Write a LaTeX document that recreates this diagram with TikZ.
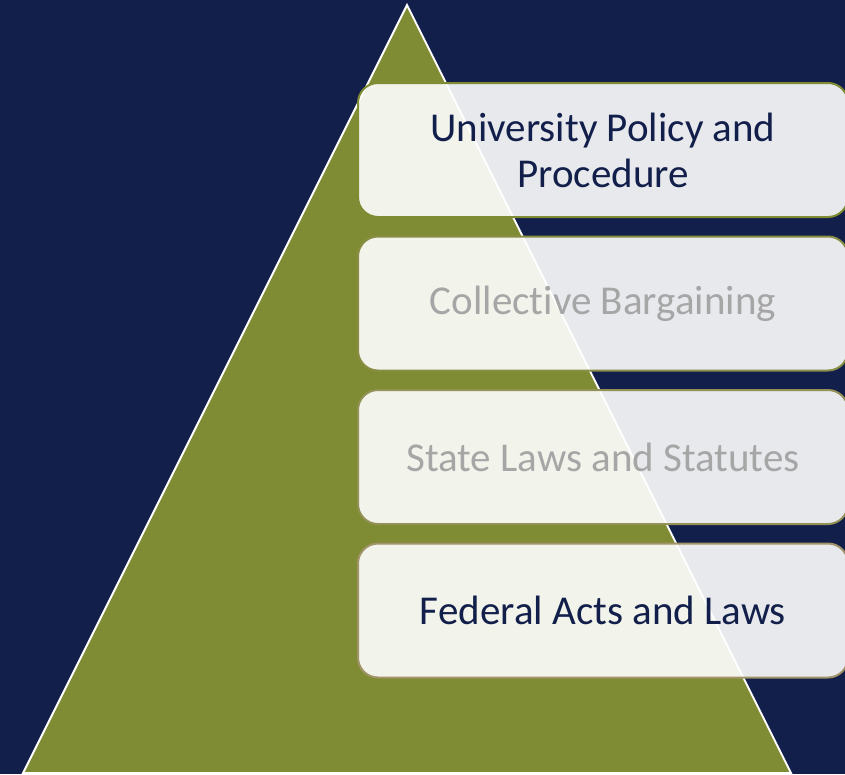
\documentclass[tikz,border=0pt]{standalone}
\usepackage{fontspec}
\setmainfont{Carlito}[Ligatures=NoCommon]
\usetikzlibrary{positioning}
\definecolor{NavyClr}{RGB}{18,31,74}
\definecolor{OliveClr}{RGB}{127,140,52}
\definecolor{TanClr}{RGB}{160,148,104}
\definecolor{GreyTxt}{RGB}{166,166,166}

\begin{document}
\begin{tikzpicture}[x=1pt,y=-1pt,
  tier/.style={draw=#1,line width=2pt,fill=white,fill opacity=0.9,text opacity=1,
    rounded corners=20pt,minimum width=490pt,minimum height=134pt,inner sep=0pt,
    align=center,font=\fontsize{41}{46}\selectfont},
  node distance=17.5pt]
\useasboundingbox (0,0) rectangle (845,774);
\fill[NavyClr] (0,0) rectangle (845,774);

\coordinate (apex) at (407,5);
\coordinate (baseL) at (23,773);
\coordinate (baseR) at (791,773);
\draw[white,line width=2pt,line join=miter,fill=OliveClr] (baseL) -- (apex) -- (baseR) -- cycle;

% tiers, top to bottom
\node[tier=OliveClr,text=NavyClr] (univ) at (603,150) {University Policy and\\Procedure};
\node[tier=OliveClr!70!TanClr,text=GreyTxt,below=of univ] (bargain) {Collective Bargaining};
\node[tier=OliveClr!35!TanClr,text=GreyTxt,below=of bargain] (state) {State Laws and Statutes};
\node[tier=TanClr,text=NavyClr,below=of state] (federal) {Federal Acts and Laws};

\end{tikzpicture}
\end{document}
